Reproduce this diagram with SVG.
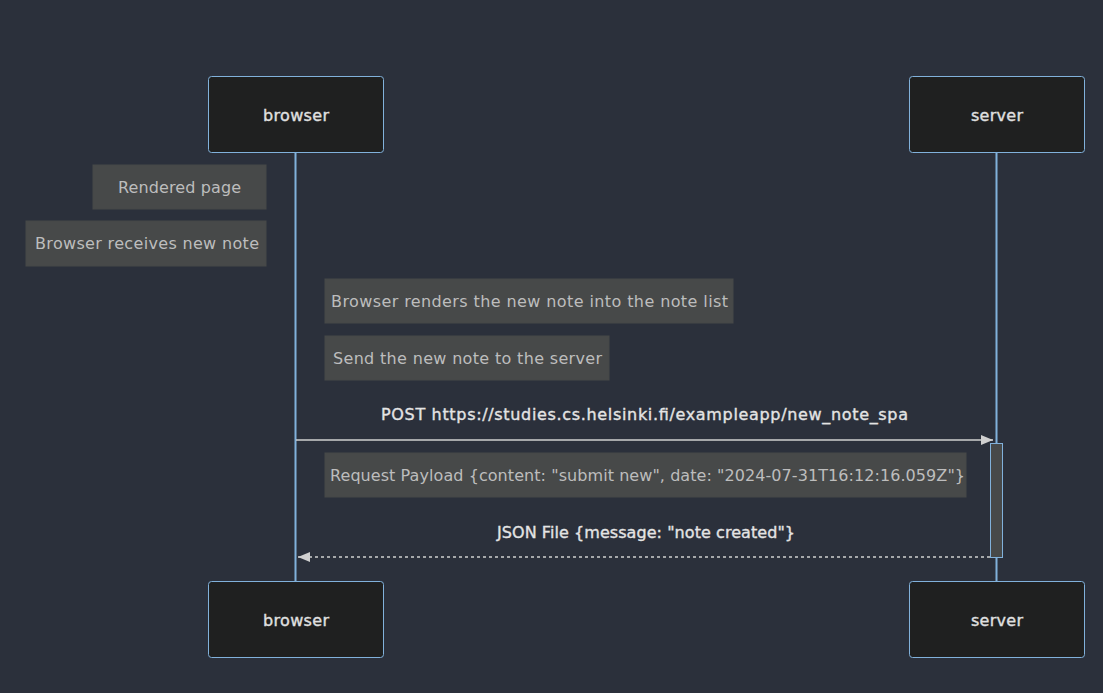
<svg xmlns="http://www.w3.org/2000/svg" width="1103" height="693" viewBox="0 0 1103 693">
<defs>
<style>
.actor{fill:#1f2020;stroke:#81b1db;stroke-width:1}
.actor-text{fill:#e0e0e0;font-family:"DejaVu Sans",sans-serif;font-size:16px;text-anchor:middle;dominant-baseline:central;stroke:#e0e0e0;stroke-width:0.35}
.life{stroke:#81b1db;stroke-width:2}
.note{fill:#474949;stroke:#474949}
.note-text{fill:#bdbdbd;font-family:"DejaVu Sans",sans-serif;font-size:16px;text-anchor:middle;dominant-baseline:central}
.msg-text{fill:#e4e4e4;font-family:"DejaVu Sans",sans-serif;font-size:16px;text-anchor:middle;dominant-baseline:central;stroke:#e4e4e4;stroke-width:0.35}
.msg{stroke:#d0d0d0;stroke-width:1.5;fill:none}
.act{fill:#474949;stroke:#81b1db;stroke-width:1}
</style>
<marker id="arrow" viewBox="0 0 12 10" refX="12" refY="5" markerWidth="12" markerHeight="10" markerUnits="userSpaceOnUse" orient="auto">
<path d="M0,0 L12,5 L0,10 z" fill="#d0d0d0"/>
</marker>
</defs>
<rect width="1103" height="693" fill="#2b303b"/>
<g id="lifelines">
<line class="life" x1="295.5" y1="152" x2="295.5" y2="581"/>
<line class="life" x1="996.5" y1="152" x2="996.5" y2="581"/>
</g>
<g id="actor-browser-top"><rect class="actor" x="208.5" y="76.5" width="175" height="76" rx="3"/><text class="actor-text" x="296" y="115" textLength="66">browser</text></g>
<g id="actor-server-top"><rect class="actor" x="909.5" y="76.5" width="175" height="76" rx="3"/><text class="actor-text" x="997" y="115" textLength="52">server</text></g>
<g id="actor-browser-bottom"><rect class="actor" x="208.5" y="581.5" width="175" height="76" rx="3"/><text class="actor-text" x="296" y="620" textLength="66">browser</text></g>
<g id="actor-server-bottom"><rect class="actor" x="909.5" y="581.5" width="175" height="76" rx="3"/><text class="actor-text" x="997" y="620" textLength="52">server</text></g>
<g id="activation"><rect class="act" x="990.5" y="443.5" width="12" height="114"/></g>
<g id="note-rendered"><rect class="note" x="93" y="165" width="173" height="44"/><text class="note-text" x="179.5" y="187" textLength="123">Rendered page</text></g>
<g id="note-receives"><rect class="note" x="26" y="221" width="240" height="45"/><text class="note-text" x="147" y="243.5" textLength="224">Browser receives new note</text></g>
<g id="note-renders"><rect class="note" x="325" y="279" width="408" height="44"/><text class="note-text" x="529.5" y="301" textLength="397">Browser renders the new note into the note list</text></g>
<g id="note-send"><rect class="note" x="325" y="336" width="284" height="44"/><text class="note-text" x="467.5" y="358" textLength="269">Send the new note to the server</text></g>
<g id="note-payload"><rect class="note" x="325" y="453" width="641" height="44"/><text class="note-text" x="647.5" y="475" textLength="635">Request Payload {content: "submit new", date: "2024-07-31T16:12:16.059Z"}</text></g>
<g id="connectors">
<line class="msg" x1="296" y1="440" x2="993" y2="440" marker-end="url(#arrow)"/>
<text class="msg-text" x="644.5" y="414" textLength="527">POST https://studies.cs.helsinki.fi/exampleapp/new_note_spa</text>
<line class="msg" x1="990" y1="557" x2="298" y2="557" stroke-dasharray="3,3" marker-end="url(#arrow)"/>
<text class="msg-text" x="646" y="532" textLength="298">JSON File {message: "note created"}</text>
</g>
</svg>
